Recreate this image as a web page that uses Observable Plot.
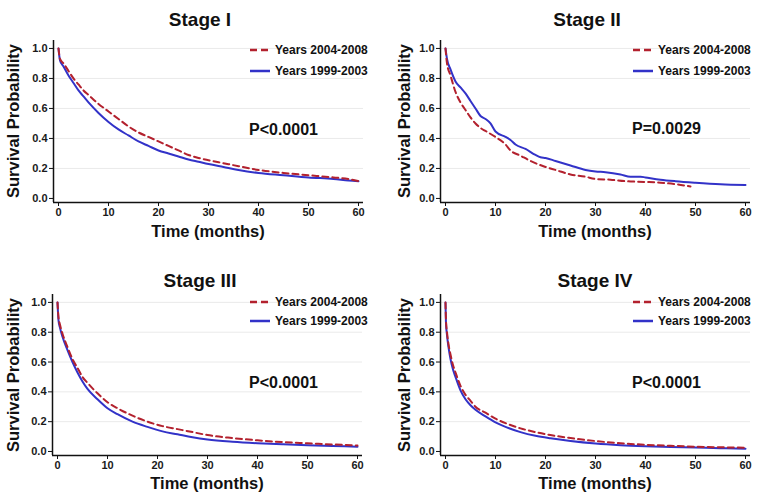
<!DOCTYPE html>
<html>
<head>
<meta charset="utf-8">
<script src="https://cdn.jsdelivr.net/npm/d3@7"></script>
<script src="https://cdn.jsdelivr.net/npm/@observablehq/plot@0.6"></script>
<style>
  html, body { margin: 0; padding: 0; background: #fff; }
  #root { position: relative; width: 761px; height: 497px; overflow: hidden; font-family: "Liberation Sans", Arial, sans-serif; font-weight: bold; color: #111; }
  .panel { position: absolute; }
  .panel svg { position: absolute; left: 0; top: 0; }
  .title { position: absolute; font-size: 19px; transform: translate(-50%, -50%); white-space: nowrap; }
  .pval { position: absolute; font-size: 16px; transform: translateY(-50%); white-space: nowrap; }
  .ylab { position: absolute; font-size: 16.5px; transform: translate(-50%, -50%) rotate(-90deg); white-space: nowrap; }
  .xlab { position: absolute; font-size: 16.5px; transform: translate(-50%, -50%); white-space: nowrap; }
  .leg { position: absolute; font-size: 12px; white-space: nowrap; display: flex; align-items: center; transform: translateY(-50%); }
  .leg svg { position: static; margin-right: 5px; }
</style>
</head>
<body>
<div id="root"></div>
<script>
// ---------- data ----------
const stageTitles = ["Stage I", "Stage II", "Stage III", "Stage IV"];
const pValues = ["P<0.0001", "P=0.0029", "P<0.0001", "P<0.0001"];
const seriesNames = ["Years 2004-2008", "Years 1999-2003"];
const xTicks = [0, 10, 20, 30, 40, 50, 60];
const yTicks = [0, 0.2, 0.4, 0.6, 0.8, 1.0];
const xLabel = "Time (months)";
const yLabel = "Survival Probability";

// Stage I
const s1Times   = [0, 0.3, 1, 2, 3, 4, 5, 6, 8, 10, 12, 14, 16, 18, 20, 22, 24, 26, 28, 30, 33, 36, 40, 45, 50, 55, 58, 60];
const s1Recent  = [1.0, 0.93, 0.90, 0.85, 0.80, 0.76, 0.72, 0.69, 0.63, 0.58, 0.53, 0.48, 0.44, 0.41, 0.38, 0.35, 0.32, 0.29, 0.27, 0.255, 0.235, 0.215, 0.19, 0.17, 0.155, 0.14, 0.13, 0.115];
const s1Earlier = [1.0, 0.92, 0.88, 0.82, 0.77, 0.72, 0.68, 0.64, 0.57, 0.51, 0.46, 0.42, 0.38, 0.35, 0.32, 0.30, 0.28, 0.26, 0.245, 0.23, 0.21, 0.19, 0.17, 0.155, 0.14, 0.13, 0.12, 0.115];

// Stage II
const s2RecentTimes = [0, 0.3, 1, 2, 3, 4, 5, 6, 7, 8, 10, 12, 13, 15, 17, 20, 22, 25, 28, 30, 33, 36, 40, 43, 46, 49];
const s2Recent      = [1.0, 0.90, 0.82, 0.71, 0.64, 0.59, 0.54, 0.50, 0.47, 0.45, 0.41, 0.36, 0.32, 0.285, 0.25, 0.21, 0.19, 0.16, 0.145, 0.13, 0.125, 0.115, 0.11, 0.105, 0.095, 0.08];
const s2EarlierTimes = [0, 0.3, 1, 2, 3, 4, 5, 6, 7, 8, 9, 10, 12, 13, 14, 16, 18, 19, 20, 22, 25, 28, 30, 32, 35, 37, 39, 40, 43, 46, 50, 55, 60];
const s2Earlier      = [1.0, 0.93, 0.86, 0.78, 0.74, 0.70, 0.65, 0.60, 0.55, 0.53, 0.50, 0.446, 0.41, 0.39, 0.36, 0.33, 0.29, 0.275, 0.27, 0.25, 0.22, 0.19, 0.18, 0.175, 0.16, 0.145, 0.145, 0.14, 0.125, 0.115, 0.105, 0.095, 0.09];

// Stage III
const s3Times   = [0, 0.2, 0.5, 1, 2, 3, 4, 5, 6, 8, 10, 12, 15, 18, 21, 24, 27, 30, 35, 40, 45, 50, 55, 60];
const s3Recent  = [1.0, 0.90, 0.85, 0.79, 0.70, 0.62, 0.56, 0.50, 0.46, 0.39, 0.33, 0.29, 0.24, 0.20, 0.17, 0.15, 0.13, 0.11, 0.09, 0.075, 0.063, 0.055, 0.047, 0.04];
const s3Earlier = [1.0, 0.88, 0.83, 0.77, 0.68, 0.60, 0.53, 0.47, 0.42, 0.35, 0.29, 0.25, 0.20, 0.165, 0.135, 0.115, 0.095, 0.08, 0.065, 0.055, 0.048, 0.042, 0.037, 0.032];

// Stage IV
const s4Times   = [0, 0.1, 0.3, 0.6, 1, 1.5, 2, 3, 4, 5, 6, 8, 10, 12, 15, 18, 21, 25, 30, 35, 40, 45, 50, 55, 60];
const s4Recent  = [1.0, 0.88, 0.80, 0.72, 0.65, 0.58, 0.53, 0.44, 0.38, 0.34, 0.30, 0.26, 0.22, 0.19, 0.155, 0.13, 0.11, 0.09, 0.07, 0.055, 0.045, 0.038, 0.032, 0.028, 0.025];
const s4Earlier = [1.0, 0.86, 0.78, 0.70, 0.62, 0.55, 0.50, 0.41, 0.35, 0.31, 0.28, 0.235, 0.195, 0.165, 0.13, 0.105, 0.088, 0.07, 0.053, 0.042, 0.035, 0.03, 0.026, 0.022, 0.019];

const recentColor = "#b3212e";
const earlierColor = "#3232c8";

// ---------- layout ----------
const panels = [
  {left: 0,   top: 0,   w: 380, h: 250, mL: 53, mR: 17, mT: 40, mB: 48, recentT: s1Times, recent: s1Recent, earlierT: s1Times, earlier: s1Earlier,
   titleX: 200, titleY: 20, legX: 250, legY: [50, 71], pX: 249, pY: 130, ylabX: 13, xlabY: 231},
  {left: 380, top: 0,   w: 381, h: 250, mL: 60, mR: 11, mT: 40, mB: 48, recentT: s2RecentTimes, recent: s2Recent, earlierT: s2EarlierTimes, earlier: s2Earlier,
   titleX: 207, titleY: 20, legX: 253, legY: [50, 71], pX: 252, pY: 129, ylabX: 24, xlabY: 231},
  {left: 0,   top: 250, w: 380, h: 247, mL: 52, mR: 18, mT: 44, mB: 42, recentT: s3Times, recent: s3Recent, earlierT: s3Times, earlier: s3Earlier,
   titleX: 200, titleY: 31, legX: 250, legY: [52, 71], pX: 249, pY: 133, ylabX: 13, xlabY: 233},
  {left: 380, top: 250, w: 381, h: 247, mL: 60, mR: 11, mT: 44, mB: 42, recentT: s4Times, recent: s4Recent, earlierT: s4Times, earlier: s4Earlier,
   titleX: 215, titleY: 31, legX: 253, legY: [52, 71], pX: 252, pY: 133, ylabX: 24, xlabY: 233}
];

const xDomain = [-1, 61];
const yDomain = [-0.027, 1.053];
const root = document.getElementById("root");

panels.forEach((p, i) => {
  const div = document.createElement("div");
  div.className = "panel";
  div.style.left = p.left + "px";
  div.style.top = p.top + "px";
  div.style.width = p.w + "px";
  div.style.height = p.h + "px";

  const recentData = p.recentT.map((t, k) => ({t, s: p.recent[k], g: seriesNames[0]}));
  const earlierData = p.earlierT.map((t, k) => ({t, s: p.earlier[k], g: seriesNames[1]}));

  const chart = Plot.plot({
    width: p.w, height: p.h,
    marginLeft: p.mL, marginRight: p.mR, marginTop: p.mT, marginBottom: p.mB,
    style: {fontFamily: "Liberation Sans, Arial, sans-serif", fontWeight: "bold", fontSize: "11px", color: "#1a1a1a", background: "transparent"},
    x: {domain: xDomain},
    y: {domain: yDomain},
    marks: [
      Plot.gridY(yTicks.filter(d => d > 0), {stroke: "#e4e4e4", strokeOpacity: 1, strokeWidth: 0.8}),
      Plot.line(earlierData, {x: "t", y: "s", stroke: earlierColor, strokeWidth: 2, curve: "monotone-x"}),
      Plot.line(recentData, {x: "t", y: "s", stroke: recentColor, strokeWidth: 2, strokeDasharray: "6,4", curve: "monotone-x"}),
      Plot.ruleX([xDomain[0]], {stroke: "#111", strokeWidth: 1.5}),
      Plot.ruleY([yDomain[0]], {stroke: "#111", strokeWidth: 1.5}),
      Plot.axisX(xTicks, {tickSize: 4, tickPadding: 2, label: null, tickFormat: d3.format("d"), stroke: "#111"}),
      Plot.axisY(yTicks, {tickSize: 4, tickPadding: 2, label: null, tickFormat: d3.format(".1f"), stroke: "#111"})
    ]
  });
  div.appendChild(chart);

  const title = document.createElement("div");
  title.className = "title";
  title.textContent = stageTitles[i];
  title.style.left = p.titleX + "px";
  title.style.top = p.titleY + "px";
  div.appendChild(title);

  const pv = document.createElement("div");
  pv.className = "pval";
  pv.textContent = pValues[i];
  pv.style.left = p.pX + "px";
  pv.style.top = p.pY + "px";
  div.appendChild(pv);

  const yl = document.createElement("div");
  yl.className = "ylab";
  yl.textContent = yLabel;
  yl.style.left = p.ylabX + "px";
  yl.style.top = ((p.mT + (p.h - p.mB)) / 2) + "px";
  div.appendChild(yl);

  const xl = document.createElement("div");
  xl.className = "xlab";
  xl.textContent = xLabel;
  xl.style.left = ((p.mL + (p.w - p.mR)) / 2) + "px";
  xl.style.top = p.xlabY + "px";
  div.appendChild(xl);

  seriesNames.forEach((name, k) => {
    const lg = document.createElement("div");
    lg.className = "leg";
    lg.style.left = p.legX + "px";
    lg.style.top = p.legY[k] + "px";
    const dash = k === 0 ? 'stroke-dasharray="7,4"' : "";
    const col = k === 0 ? recentColor : earlierColor;
    lg.innerHTML = `<svg width="20" height="6"><line x1="0" y1="3" x2="20" y2="3" stroke="${col}" stroke-width="2.5" ${dash}/></svg><span>${name}</span>`;
    div.appendChild(lg);
  });

  root.appendChild(div);
});
</script>
</body>
</html>
